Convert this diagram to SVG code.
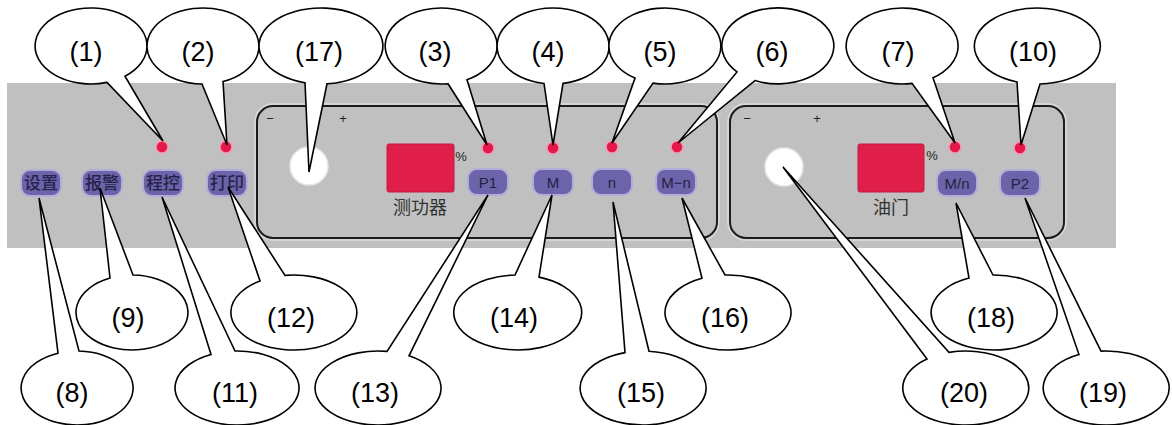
<svg xmlns="http://www.w3.org/2000/svg" width="1172" height="425" viewBox="0 0 1172 425">
  <style>
    .bg { fill: #ffffff; }
    .panel { fill: #c0c0c0; }
    .frame { fill: none; stroke: #1c1c1c; stroke-width: 2; }
    .frame-hi { fill: none; stroke: #dadada; stroke-width: 1.5; }
    .btn { fill: #6c64aa; stroke: #b4acd8; stroke-width: 2; }
    .btn-cn { font-family: "Noto Sans CJK SC", "Liberation Sans", sans-serif; font-size: 17px; font-weight: 500; fill: #27234a; text-anchor: middle; }
    .btn-en { font-family: "Liberation Sans", Arial, sans-serif; font-size: 15px; fill: #25213f; text-anchor: middle; }
    .led { fill: #e4184a; stroke: #f29ab2; stroke-width: 1.5; }
    .disp { fill: #e01e4a; stroke: #c8183f; stroke-width: 1; }
    .knob { fill: #ffffff; stroke: #e6e6e6; stroke-width: 1.5; }
    .cap { font-family: "Noto Sans CJK SC", "Liberation Sans", sans-serif; font-size: 18px; fill: #333333; text-anchor: middle; }
    .small { font-family: "Liberation Sans", Arial, sans-serif; font-size: 13px; fill: #222222; text-anchor: middle; }
    .callout path { fill: #ffffff; stroke: #000000; stroke-width: 1.6; stroke-linejoin: miter; }
    .callout text { font-family: "Liberation Sans", Arial, sans-serif; font-size: 27px; fill: #000000; text-anchor: middle; }
  </style>

  <rect class="bg" x="0" y="0" width="1172" height="425"/>

  <!-- control panel body -->
  <g id="panel">
    <rect class="panel" x="7" y="83" width="1109" height="165"/>
    <rect class="frame-hi" x="255" y="104" width="464" height="136" rx="18"/>
    <rect class="frame" x="257" y="106" width="460" height="132" rx="16"/>
    <rect class="frame-hi" x="728" y="104" width="338" height="136" rx="18"/>
    <rect class="frame" x="730" y="106" width="334" height="132" rx="16"/>
  </g>

  <!-- left key group -->
  <g id="key-set"><rect class="btn" x="21" y="170" width="40" height="26" rx="9"/><text class="btn-cn" x="41" y="189">设置</text></g>
  <g id="key-alarm"><rect class="btn" x="82" y="170" width="40" height="26" rx="9"/><text class="btn-cn" x="102" y="189">报警</text></g>
  <g id="key-prog"><rect class="btn" x="143" y="170" width="40" height="26" rx="9"/><text class="btn-cn" x="163" y="189">程控</text></g>
  <g id="key-print"><rect class="btn" x="207" y="170" width="40" height="26" rx="9"/><text class="btn-cn" x="227" y="189">打印</text></g>
  <g id="led-prog"><circle class="led" cx="162" cy="147" r="6"/></g>
  <g id="led-print"><circle class="led" cx="226" cy="147" r="6"/></g>

  <!-- dynamometer section -->
  <g id="dyno-knob">
    <text class="small" x="270" y="123">−</text>
    <text class="small" x="343" y="123">+</text>
    <circle class="knob" cx="309" cy="166" r="19"/>
  </g>
  <g id="dyno-display">
    <rect class="disp" x="387" y="144" width="67" height="48" rx="2"/>
    <text class="small" x="461" y="161">%</text>
    <text class="cap" x="420" y="214">测功器</text>
  </g>
  <g id="led-p1"><circle class="led" cx="488" cy="148" r="6"/></g>
  <g id="led-m"><circle class="led" cx="553" cy="148" r="6"/></g>
  <g id="led-n"><circle class="led" cx="612" cy="147" r="6"/></g>
  <g id="led-mn"><circle class="led" cx="677" cy="147" r="6"/></g>
  <g id="key-p1"><rect class="btn" x="468" y="169" width="40" height="26" rx="9"/><text class="btn-en" x="488" y="188">P1</text></g>
  <g id="key-m"><rect class="btn" x="533" y="169" width="40" height="26" rx="9"/><text class="btn-en" x="553" y="188">M</text></g>
  <g id="key-n"><rect class="btn" x="592" y="169" width="40" height="26" rx="9"/><text class="btn-en" x="612" y="188">n</text></g>
  <g id="key-mn"><rect class="btn" x="656" y="169" width="40" height="26" rx="9"/><text class="btn-en" x="676" y="188">M−n</text></g>

  <!-- throttle section -->
  <g id="throttle-knob">
    <text class="small" x="747" y="123">−</text>
    <text class="small" x="817" y="123">+</text>
    <circle class="knob" cx="784" cy="167" r="19"/>
  </g>
  <g id="throttle-display">
    <rect class="disp" x="858" y="144" width="66" height="48" rx="2"/>
    <text class="small" x="932" y="160">%</text>
    <text class="cap" x="891" y="214">油门</text>
  </g>
  <g id="led-mn2"><circle class="led" cx="955" cy="147" r="6"/></g>
  <g id="led-p2"><circle class="led" cx="1020" cy="148" r="6"/></g>
  <g id="key-mn2"><rect class="btn" x="937" y="170" width="40" height="26" rx="9"/><text class="btn-en" x="957" y="189">M/n</text></g>
  <g id="key-p2"><rect class="btn" x="1000" y="170" width="40" height="26" rx="9"/><text class="btn-en" x="1020" y="189">P2</text></g>

  <!-- numbered callouts with pointer tails -->
  <g id="callouts" class="callout">
    <g id="c1"><path d="M107,82.4 A56,38 0 1 1 125,76.2 L163,141 Z"/><text x="86" y="61">(1)</text></g>
    <g id="c2"><path d="M202,84 A56,38 0 1 1 223,81.5 L227,145 Z"/><text x="198" y="61">(2)</text></g>
    <g id="c17"><path d="M305,82.7 A62,38 0 1 1 327,83.8 L309,172 Z"/><text x="319" y="61">(17)</text></g>
    <g id="c3"><path d="M448,83.7 A56,38 0 1 1 467,79.7 L487,145 Z"/><text x="435" y="61">(3)</text></g>
    <g id="c4"><path d="M544,83.5 A56,38 0 1 1 563,83.4 L553,145 Z"/><text x="548" y="61">(4)</text></g>
    <g id="c5"><path d="M635,78.1 A56,38 0 1 1 653,83.1 L612,143 Z"/><text x="660" y="61">(5)</text></g>
    <g id="c6"><path d="M737,71.9 A56,38 0 1 1 755,80.6 L678,143 Z"/><text x="772" y="61">(6)</text></g>
    <g id="c7"><path d="M912,83.4 A56,38 0 1 1 933,77.7 L955,143 Z"/><text x="898" y="61">(7)</text></g>
    <g id="c10"><path d="M1017,82 A63,38 0 1 1 1040,84 L1021,145 Z"/><text x="1033" y="61">(10)</text></g>

    <g id="c9"><path d="M133,275 A56,37.5 0 1 1 110,278 L100,188 Z"/><text x="128" y="327">(9)</text></g>
    <g id="c12"><path d="M285,275.4 A63,37.5 0 1 1 260,280.9 L228,187 Z"/><text x="291" y="327">(12)</text></g>
    <g id="c14"><path d="M539,277.1 A64,37.5 0 1 1 515,275 L552,195 Z"/><text x="514" y="327">(14)</text></g>
    <g id="c16"><path d="M725,275 A63,37.5 0 1 1 702,278.3 L682,198 Z"/><text x="725" y="327">(16)</text></g>
    <g id="c18"><path d="M993,275 A63,37.5 0 1 1 969,278.1 L956,203 Z"/><text x="991" y="327">(18)</text></g>

    <g id="c8"><path d="M79,351 A56,37 0 1 1 58,353.2 L39,198 Z"/><text x="72" y="402">(8)</text></g>
    <g id="c11"><path d="M235,351 A62,37 0 1 1 211,354.4 L162,197 Z"/><text x="235" y="402">(11)</text></g>
    <g id="c13"><path d="M409,355.8 A63,37 0 1 1 387,351.4 L488,195 Z"/><text x="375" y="402">(13)</text></g>
    <g id="c15"><path d="M649,351.2 A63,37 0 1 1 625,352.6 L613,202 Z"/><text x="641" y="402">(15)</text></g>
    <g id="c20"><path d="M949,352.4 A63,37 0 1 1 927,358.9 L783,167 Z"/><text x="964" y="402">(20)</text></g>
    <g id="c19"><path d="M1101,351.1 A63,37 0 1 1 1079,354.6 L1025,198 Z"/><text x="1103" y="402">(19)</text></g>
  </g>
</svg>
